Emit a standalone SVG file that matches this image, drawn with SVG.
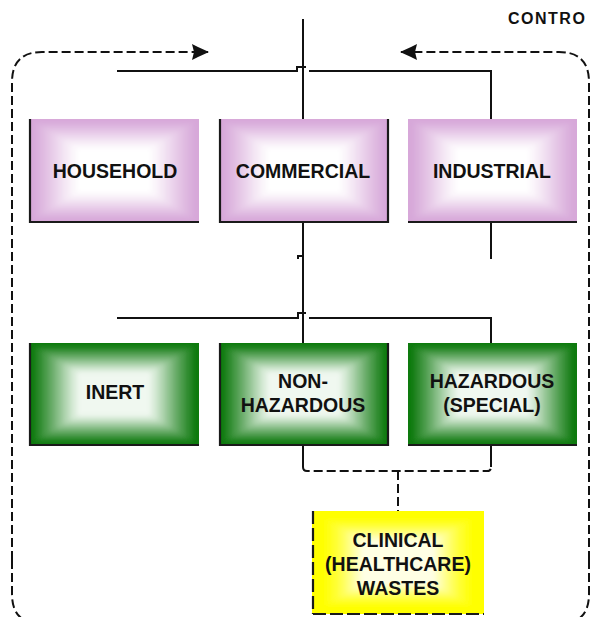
<svg xmlns="http://www.w3.org/2000/svg" xmlns:xlink="http://www.w3.org/1999/xlink" width="590" height="617" viewBox="0 0 590 617">
<style>
.lbl{font-family:"Liberation Sans",Arial,sans-serif;font-weight:bold;font-size:19.5px;fill:#111;text-anchor:middle}
.ctl{font-family:"Liberation Sans",Arial,sans-serif;font-weight:bold;font-size:16px;fill:#111;letter-spacing:1.5px}
.ln{fill:none;stroke:#111;stroke-width:2}
.dsh{fill:none;stroke:#111;stroke-width:2;stroke-dasharray:9 4}
.edge{fill:none;stroke:#1a1a1a;stroke-width:2.2}
.ydash{fill:none;stroke:#1a1a1a;stroke-width:2.2;stroke-dasharray:13 4}
</style>
<defs>
<filter id="soft" x="-10%" y="-10%" width="120%" height="120%">
<feGaussianBlur stdDeviation="2.5"/>
</filter>
<symbol id="gPink" viewBox="0 0 170 103" preserveAspectRatio="none">
<rect x="0" y="0" width="170" height="103" fill="#d7a8d9"/>
<g filter="url(#soft)">
<rect x="6.8" y="4.1" width="156.4" height="94.8" fill="#dcb3de"/>
<rect x="13.6" y="8.2" width="142.8" height="86.6" fill="#e2c0e3"/>
<rect x="20.4" y="12.4" width="129.2" height="78.2" fill="#e8cde9"/>
<rect x="27.2" y="16.5" width="115.6" height="70" fill="#efdcf0"/>
<rect x="34" y="20.6" width="102" height="61.8" fill="#f5e9f5"/>
<rect x="40.8" y="24.7" width="88.4" height="53.6" fill="#fbf6fb"/>
<rect x="47.6" y="28.8" width="74.8" height="45.4" fill="#ffffff"/>
</g>
</symbol>
<symbol id="gGreen" viewBox="0 0 170 103" preserveAspectRatio="none">
<rect x="0" y="0" width="170" height="103" fill="#0e7a0e"/>
<g filter="url(#soft)">
<rect x="6.8" y="4.1" width="156.4" height="94.8" fill="#2a892a"/>
<rect x="13.6" y="8.2" width="142.8" height="86.6" fill="#4a9b4a"/>
<rect x="20.4" y="12.4" width="129.2" height="78.2" fill="#6cae6c"/>
<rect x="27.2" y="16.5" width="115.6" height="70" fill="#90c390"/>
<rect x="34" y="20.6" width="102" height="61.8" fill="#b4d7b4"/>
<rect x="40.8" y="24.7" width="88.4" height="53.6" fill="#d6ead6"/>
<rect x="47.6" y="28.8" width="74.8" height="45.4" fill="#f0f8f0"/>
</g>
</symbol>
<symbol id="gYellow" viewBox="0 0 170 103" preserveAspectRatio="none">
<rect x="0" y="0" width="170" height="103" fill="#ffff00"/>
<g filter="url(#soft)">
<rect x="13.6" y="8.2" width="142.8" height="86.6" fill="#ffff14"/>
<rect x="20.4" y="12.4" width="129.2" height="78.2" fill="#ffff30"/>
<rect x="27.2" y="16.5" width="115.6" height="70" fill="#ffff58"/>
<rect x="34" y="20.6" width="102" height="61.8" fill="#ffff88"/>
<rect x="40.8" y="24.7" width="88.4" height="53.6" fill="#ffffb8"/>
<rect x="47.6" y="28.8" width="74.8" height="45.4" fill="#ffffe4"/>
</g>
</symbol>
<marker id="arr" viewBox="0 0 18 16" refX="17" refY="8" markerWidth="18" markerHeight="16" markerUnits="userSpaceOnUse" orient="auto">
<path d="M1 0 L7 3 L18 8 L7 13 L1 16 L3 8 Z" fill="#111"/>
</marker>
</defs>

<text class="ctl" x="508" y="24">CONTRO</text>

<g id="connectors">
<path class="dsh" d="M12 560 V82 Q12 52 42 52 H208" marker-end="url(#arr)"/>
<path class="dsh" d="M12 560 V594 Q12 624 42 624"/>
<path class="dsh" d="M589 560 V82 Q589 52 559 52 H401" marker-end="url(#arr)"/>
<path class="dsh" d="M589 560 V594 Q589 624 559 624"/>
<path class="ln" d="M303 19 V119"/>
<path class="ln" d="M117 71 H297 V67 H306"/>
<path class="ln" d="M309 71 H491 V119"/>
<path class="ln" d="M303 223 V343"/>
<path class="ln" d="M298 259 V256 H304"/>
<path class="ln" d="M491 223 V259"/>
<path class="ln" d="M117 318 H298 V313 H306"/>
<path class="ln" d="M309 318 H491 V343"/>
<path class="ln" d="M303 445 V467"/>
<path class="ln" d="M491 445 V467"/>
<path class="dsh" d="M303 467 Q303 471 307 471 H487 Q491 471 491 467"/>
<path class="dsh" d="M398 471 V511"/>
</g>

<g id="household">
<use xlink:href="#gPink" x="29" y="119" width="170" height="103"/>
<path class="edge" d="M30 119 V222 H199"/>
<text class="lbl" x="115" y="178">HOUSEHOLD</text>
</g>
<g id="commercial">
<use xlink:href="#gPink" x="219" y="119" width="170" height="103"/>
<path class="edge" d="M220 119 V222 H388 V119"/>
<text class="lbl" x="303" y="178">COMMERCIAL</text>
</g>
<g id="industrial">
<use xlink:href="#gPink" x="408" y="119" width="169" height="103"/>
<path class="edge" d="M408 222 H577"/>
<text class="lbl" x="492" y="178">INDUSTRIAL</text>
</g>

<g id="inert">
<use xlink:href="#gGreen" x="29" y="343" width="170" height="102"/>
<path class="edge" d="M30 343 V445 H199"/>
<text class="lbl" x="115" y="399">INERT</text>
</g>
<g id="non-hazardous">
<use xlink:href="#gGreen" x="219" y="343" width="170" height="102"/>
<path class="edge" d="M220 343 V445 H388 V343"/>
<text class="lbl" x="303" y="388">NON-</text>
<text class="lbl" x="303" y="412">HAZARDOUS</text>
</g>
<g id="hazardous">
<use xlink:href="#gGreen" x="408" y="343" width="169" height="102"/>
<path class="edge" d="M408 445 H577"/>
<text class="lbl" x="492" y="388">HAZARDOUS</text>
<text class="lbl" x="492" y="412">(SPECIAL)</text>
</g>

<g id="clinical">
<use xlink:href="#gYellow" x="312" y="511" width="172" height="103"/>
<path class="ydash" d="M313 511 V614"/>
<path class="ydash" d="M313 614 H484"/>
<text class="lbl" x="398" y="547">CLINICAL</text>
<text class="lbl" x="398" y="571">(HEALTHCARE)</text>
<text class="lbl" x="398" y="595">WASTES</text>
</g>
</svg>
